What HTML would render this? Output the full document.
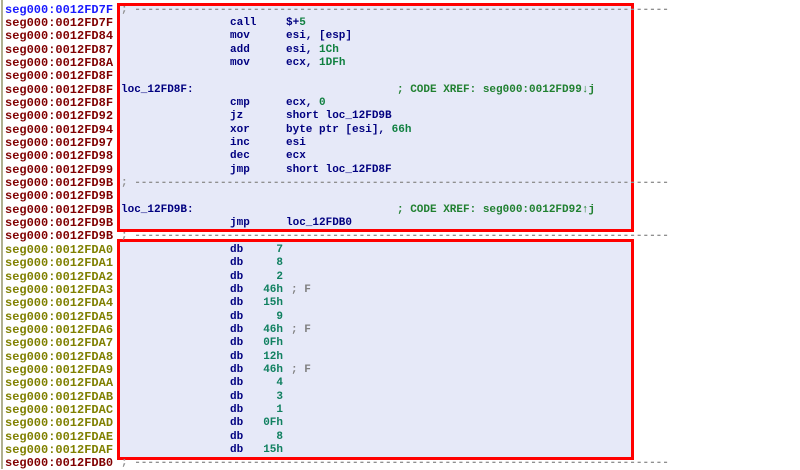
<!DOCTYPE html>
<html><head><meta charset="utf-8"><style>
body{margin:0;width:800px;height:469px;background:#fff;position:relative;overflow:hidden;font-family:"Liberation Mono","DejaVu Sans Mono",monospace;font-weight:bold}
.box{position:absolute;left:117px;width:511px;border:3px solid #f00;background:#e6e9f8}
.r{position:absolute;left:0;height:13px;line-height:13px;white-space:pre}
.a{position:absolute;left:5px;font-size:12px;letter-spacing:0}
.t{position:absolute;font-size:11px}
.bar{position:absolute;left:1px;top:0;width:2px;height:469px;background:#b0b090}
</style></head><body>
<div class="bar"></div>
<div class="box" style="top:3px;height:223px"></div>
<div class="box" style="top:239px;height:215px"></div>
<div id="c"></div>
<script>
var rows=[
["7F","#1a1aff","dash"],
["7F","#800000","c","call","$+5"],
["84","#800000","c","mov","esi, [esp]"],
["87","#800000","c","add","esi, 1Ch"],
["8A","#800000","c","mov","ecx, 1DFh"],
["8F","#800000",""],
["8F","#800000","l","loc_12FD8F:","; CODE XREF: seg000:0012FD99\u2193j"],
["8F","#800000","c","cmp","ecx, 0"],
["92","#800000","c","jz","short loc_12FD9B"],
["94","#800000","c","xor","byte ptr [esi], 66h"],
["97","#800000","c","inc","esi"],
["98","#800000","c","dec","ecx"],
["99","#800000","c","jmp","short loc_12FD8F"],
["9B","#800000","dash"],
["9B","#800000",""],
["9B","#800000","l","loc_12FD9B:","; CODE XREF: seg000:0012FD92\u2191j"],
["9B","#800000","c","jmp","loc_12FDB0"],
["9B","#800000","dash"]];
var d=[["A0","7"],["A1","8"],["A2","2"],["A3","46h","; F"],["A4","15h"],["A5","9"],["A6","46h","; F"],["A7","0Fh"],["A8","12h"],["A9","46h","; F"],["AA","4"],["AB","3"],["AC","1"],["AD","0Fh"],["AE","8"],["AF","15h"]];
d.forEach(function(x){rows.push([x[0],"#808000","d","db",x[1],x[2]]);});
rows.push(["B0","#800000","dash"]);
var h="";
rows.forEach(function(r,i){
 var top=(3.5+i*13.35).toFixed(1);
 h+='<div class="r" style="top:'+top+'px"><span class="a" style="color:'+r[1]+'">seg000:0012FD'+r[0]+'</span>';
 if(r[2]=="dash"){h+='<span class="t" style="left:121px;color:#909090">; '+"-".repeat(81)+'</span>';}
 if(r[2]=="c"){h+='<span class="t" style="left:230px;color:#000080">'+r[3]+'</span><span class="t" style="left:286px;color:#000080">'+r[4].replace(/(\$\+)?(\b[0-9][0-9A-F]*h?\b)(?![^<]*>)/g,function(m,p,n){return (p||"")+'<span style="color:#108040">'+n+'</span>';})+'</span>';}
 if(r[2]=="l"){h+='<span class="t" style="left:121px;color:#000080">'+r[3]+'</span><span class="t" style="left:397px;color:#208030">'+r[4]+'</span>';}
 if(r[2]=="d"){h+='<span class="t" style="left:230px;color:#000080">db</span><span class="t" style="left:253px;width:30px;text-align:right;color:#108060">'+r[4]+'</span>';
  if(r[5])h+='<span class="t" style="left:291px;color:#808080">'+r[5]+'</span>';}
 h+='</div>';
});
document.getElementById("c").innerHTML=h;
</script>
</body></html>
